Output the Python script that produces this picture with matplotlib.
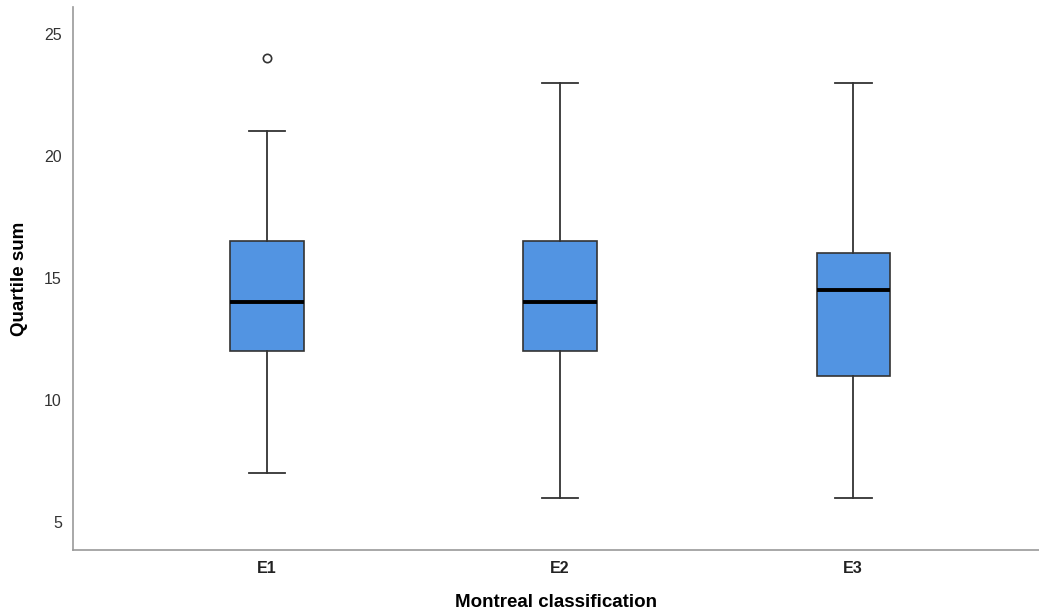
import numpy as np
import matplotlib.pyplot as plt

plt.rcParams['font.family'] = ['Liberation Sans', 'DejaVu Sans']

groups = ['E1', 'E2', 'E3']
whisker_low = [7, 6, 6]
q1 = [12, 12, 11]
median = [14, 14, 14.5]
q3 = [16.5, 16.5, 16]
whisker_high = [21, 23, 23]
outliers = [[24], [], []]

stats = []
for i, g in enumerate(groups):
    stats.append({'label': g, 'whislo': whisker_low[i], 'q1': q1[i], 'med': median[i],
                  'q3': q3[i], 'whishi': whisker_high[i], 'fliers': outliers[i]})

fig = plt.figure(figsize=(10.39, 6.14), dpi=100)
ax = fig.add_axes([0.0703, 0.1042, 0.93, 0.8844])

edge = '#333333'
ax.bxp(stats, positions=range(len(groups)), widths=0.25, patch_artist=True,
       boxprops=dict(facecolor='#5294E2', edgecolor=edge, linewidth=1.2),
       medianprops=dict(color='black', linewidth=2.8),
       whiskerprops=dict(color=edge, linewidth=1.3),
       capprops=dict(color=edge, linewidth=1.3),
       capwidths=0.125,
       flierprops=dict(marker='o', markerfacecolor='white', markeredgecolor=edge,
                       markersize=6, markeredgewidth=1.2))

ax.set_xlim(-0.662, 2.635)
ax.set_ylim(3.85, 26.1)
ax.set_yticks([5, 10, 15, 20, 25])
ax.tick_params(axis='both', length=0, labelsize=11.5, labelcolor='#333333')
ax.tick_params(axis='y', pad=8)
ax.tick_params(axis='x', pad=8)
for lbl in ax.get_xticklabels():
    lbl.set_fontweight('bold')
    lbl.set_color('#222222')

for s in ['top', 'right']:
    ax.spines[s].set_visible(False)
for s in ['left', 'bottom']:
    ax.spines[s].set_color('#999999')
    ax.spines[s].set_linewidth(1.2)

ax.set_xlabel('Montreal classification', fontsize=13.5, fontweight='bold', va='center')
ax.set_ylabel('Quartile sum', fontsize=13.5, fontweight='bold', va='center')
ax.xaxis.set_label_coords(0.5, -0.096)
ax.yaxis.set_label_coords(-0.055, 0.5)

fig.savefig('out.png', dpi=100)
